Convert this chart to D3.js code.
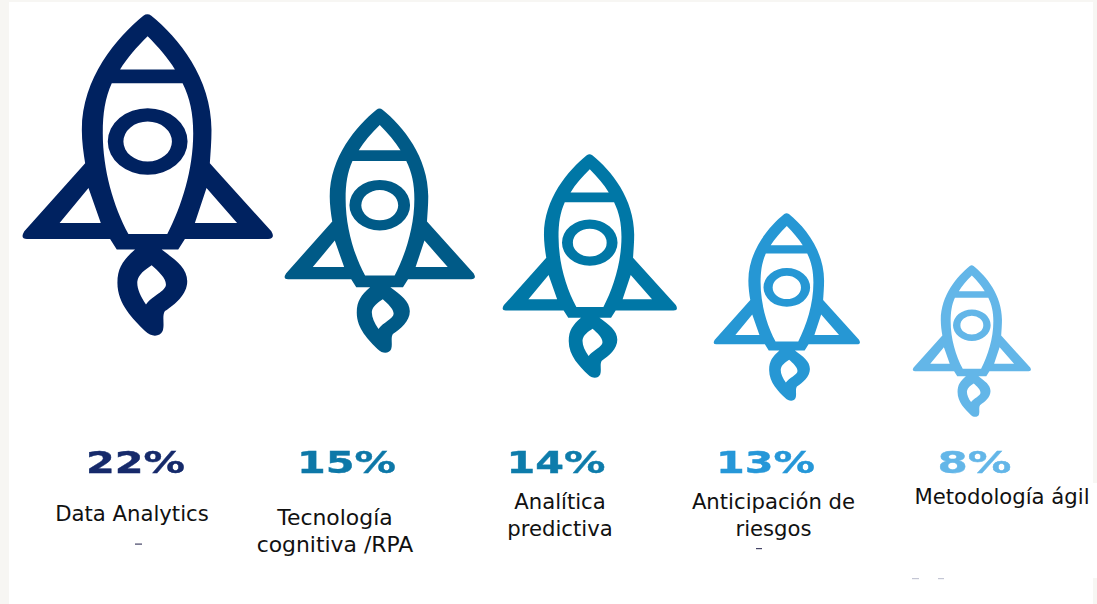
<!DOCTYPE html>
<html>
<head>
<meta charset="utf-8">
<script src="https://cdn.jsdelivr.net/npm/d3@7"></script>
<style>
  html, body { margin: 0; padding: 0; background: #fff; overflow: hidden; }
  text { font-family: "DejaVu Sans", sans-serif; }
</style>
</head>
<body>
<div id="chart"></div>
<script>
const categories = ["Data Analytics", "Tecnología cognitiva /RPA", "Analítica predictiva", "Anticipación de riesgos", "Metodología ágil"];
const values = [22, 15, 14, 13, 8];
const labelLines = [["Data Analytics"], ["Tecnología", "cognitiva /RPA"], ["Analítica", "predictiva"], ["Anticipación de", "riesgos"], ["Metodología ágil"]];

const width = 1097;
const height = 604;

/* the icon is drawn once in its own box and scaled per value */
const ICON_W = 752;
const ICON_H = 968;
const ICON_LEFT = 38;
const ICON_TOP = 42;
const ROCKET_PATH = [
  // hull, fins and flame as one outline
  "M400,47 Q412,38 424,47 C505,112 605,235 605,390 C605,425 602,460 600,490 L785,695 Q798,718 775,718 L525,718 L505,750 L455,750 C495,780 532,805 532,845 C532,885 495,915 465,935 C455,950 465,975 458,995 C450,1012 425,1015 405,995 C370,960 322,915 322,850 C322,805 340,780 375,750 L320,750 L300,718 L50,718 Q28,718 42,695 L225,490 C220,460 215,425 215,390 C215,235 320,112 400,47 Z",
  // nose window
  "M413,108 C445,140 475,175 495,208 L330,208 C350,175 380,140 413,108 Z",
  // body window
  "M305,250 L518,250 C540,295 550,340 550,400 C550,510 515,620 472,703 L355,703 C310,620 278,510 278,400 C278,340 285,295 305,250 Z",
  // porthole
  "M293,425 A120,100 0 1,0 533,425 A120,100 0 1,0 293,425 Z",
  "M340,425 A73,60 0 1,0 486,425 A73,60 0 1,0 340,425 Z",
  // fin windows
  "M235,565 L272,670 L148,670 Z",
  "M590,565 L682,670 L555,670 Z",
  // flame window
  "M425,797 C445,815 468,835 468,855 C468,875 425,890 408,915 C390,890 380,865 382,845 C385,825 405,810 425,797 Z"
].join(" ");

const x = d3.scaleOrdinal().domain(categories).range([148, 380, 590, 787, 972]);
const iconWidth = d3.scaleLinear().domain([8, 13, 14, 15, 22]).range([118, 146, 174, 190, 250]);
const iconBottom = d3.scaleLinear().domain([8, 13, 14, 15, 22]).range([417, 401, 378, 353, 336]);
const rocketColor = d3.scaleOrdinal().domain(categories).range(["#002060", "#005a87", "#0077a6", "#2597d4", "#63b6e8"]);
const valueColor = d3.scaleOrdinal().domain(categories).range(["#14296b", "#1078a8", "#0f7cab", "#2597d8", "#63b6e8"]);
const valueCentre = d3.scaleOrdinal().domain(categories).range([135.5, 346.5, 556, 765.5, 974.5]);
const labelTop = d3.scaleOrdinal().domain(categories).range([521, 525, 509, 509, 504]);
const labelCentre = d3.scaleOrdinal().domain(categories).range([132, 335, 560, 773.5, 1002]);
const labelSize = d3.scaleOrdinal().domain(categories).range([21.2, 21.9, 21.2, 21.2, 21.2]);

const rows = categories.map((c, i) => ({ category: c, value: values[i], lines: labelLines[i] }));

const svg = d3.select("#chart").append("svg")
  .attr("width", width)
  .attr("height", height);

// the source is a slightly soft upscaled image
svg.append("defs").append("filter")
  .attr("id", "soft")
  .attr("x", "-5%").attr("y", "-5%").attr("width", "110%").attr("height", "110%")
  .append("feGaussianBlur")
  .attr("stdDeviation", 0.7);

// off-white scan edges around the white panel
svg.append("rect").attr("width", width).attr("height", height).attr("fill", "#f7f6f3");
svg.append("rect").attr("x", 9).attr("y", 2).attr("width", 1084).attr("height", 602).attr("fill", "#fff");
svg.append("rect").attr("x", 1093).attr("y", 483).attr("width", 4).attr("height", 95).attr("fill", "#fff");

// leftover specks from the source image
const specks = [[135, 543.5, 7, "#446"], [756, 548, 6, "#446"], [912, 578, 7, "#c4c6d4"], [938, 578, 6, "#c4c6d4"]];
svg.selectAll("rect.speck")
  .data(specks)
  .enter()
  .append("rect")
  .attr("class", "speck")
  .attr("x", d => d[0])
  .attr("y", d => d[1])
  .attr("width", d => d[2])
  .attr("height", 1.2)
  .attr("fill", d => d[3]);

const group = svg.selectAll("g.item")
  .data(rows)
  .enter()
  .append("g")
  .attr("class", "item");

group.append("path")
  .attr("d", ROCKET_PATH)
  .attr("fill-rule", "evenodd")
  .attr("fill", d => rocketColor(d.category))
  .attr("filter", "url(#soft)")
  .attr("transform", d => {
    const k = iconWidth(d.value) / ICON_W;
    const bottom = iconBottom(d.value);
    const left = x(d.category) - iconWidth(d.value) / 2;
    return `translate(${left},${bottom - ICON_H * k}) scale(${k}) translate(${-ICON_LEFT},${-ICON_TOP})`;
  });

group.append("text")
  .attr("x", d => valueCentre(d.category))
  .attr("y", 472.5)
  .attr("font-size", 31)
  .attr("font-weight", "bold")
  .attr("fill", d => valueColor(d.category))
  .attr("stroke", d => valueColor(d.category))
  .attr("stroke-width", 0.4)
  .attr("text-anchor", "middle")
  .attr("filter", "url(#soft)")
  .attr("textLength", d => d.value < 10 ? 74 : 99)
  .attr("lengthAdjust", "spacingAndGlyphs")
  .text(d => d.value + "%");

group.each(function (d) {
  d3.select(this).selectAll("text.label")
    .data(d.lines)
    .enter()
    .append("text")
    .attr("class", "label")
    .attr("x", labelCentre(d.category))
    .attr("y", (_, i) => labelTop(d.category) + i * 27)
    .attr("text-anchor", "middle")
    .attr("font-size", labelSize(d.category))
    .attr("fill", "#111")
    .text(t => t);
});
</script>
</body>
</html>
